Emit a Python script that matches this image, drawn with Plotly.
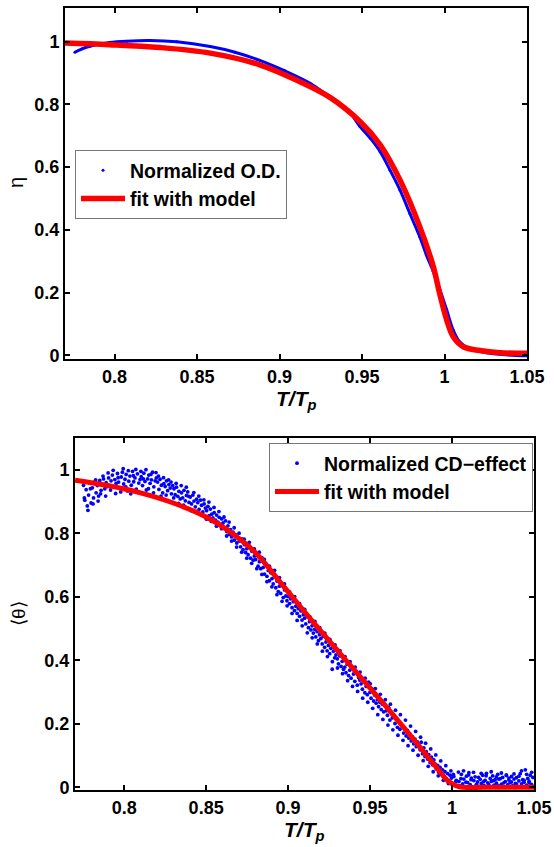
import plotly.graph_objects as go

# ---------------- Top panel data ----------------
od_x = [0.776, 0.780, 0.785, 0.791, 0.797, 0.8074, 0.8215, 0.8377, 0.858, 0.873, 0.888,
        0.903, 0.9185, 0.930, 0.9427, 0.9488, 0.955, 0.961, 0.967, 0.973, 0.979, 0.985,
        0.989, 0.9932, 0.997, 1.0013, 1.0053, 1.0093, 1.0154, 1.0255, 1.035, 1.05]
od_y = [0.966, 0.976, 0.985, 0.992, 0.997, 1.001, 1.003, 0.999, 0.984, 0.966, 0.940,
        0.907, 0.867, 0.825, 0.773, 0.729, 0.692, 0.649, 0.590, 0.527, 0.452, 0.378,
        0.320, 0.267, 0.212, 0.145, 0.080, 0.042, 0.020, 0.008, 0.002, -0.002]

fit1_x = [0.770, 0.797, 0.8276, 0.858, 0.888, 0.9124, 0.9306, 0.9488, 0.961, 0.973, 0.985,
          0.9932, 0.997, 1.0013, 1.0053, 1.0114, 1.0215, 1.0336, 1.05]
fit1_y = [0.995, 0.990, 0.981, 0.963, 0.926, 0.872, 0.822, 0.745, 0.671, 0.559, 0.410,
          0.283, 0.198, 0.113, 0.059, 0.027, 0.015, 0.008, 0.006]

# ---------------- Bottom panel data ----------------
cd_x = [
    0.7752, 0.7760, 0.7768, 0.7775, 0.7783, 0.7791, 0.7798,
    0.7806, 0.7813, 0.7821, 0.7829, 0.7836, 0.7844,
    0.7851, 0.7859, 0.7867, 0.7874, 0.7882, 0.7890, 0.7897,
    0.7905, 0.7913, 0.7920, 0.7928, 0.7936, 0.7943,
    0.7951, 0.7959, 0.7966, 0.7974, 0.7982, 0.7989, 0.7997,
    0.8005, 0.8012, 0.8020, 0.8028, 0.8035, 0.8043,
    0.8051, 0.8058, 0.8066, 0.8074, 0.8081, 0.8089, 0.8097,
    0.8104, 0.8112, 0.8120, 0.8127, 0.8135, 0.8143,
    0.8150, 0.8158, 0.8166, 0.8173, 0.8181, 0.8189, 0.8196,
    0.8204, 0.8212, 0.8219, 0.8227, 0.8235, 0.8242,
    0.8250, 0.8258, 0.8265, 0.8273, 0.8281, 0.8288, 0.8296,
    0.8304, 0.8311, 0.8319, 0.8327, 0.8334, 0.8342,
    0.8350, 0.8357, 0.8365, 0.8373, 0.8380, 0.8388, 0.8396,
    0.8403, 0.8411, 0.8419, 0.8426, 0.8434, 0.8442,
    0.8449, 0.8457, 0.8465, 0.8472, 0.8480, 0.8488, 0.8495,
    0.8503, 0.8511, 0.8518, 0.8526, 0.8534, 0.8541,
    0.8549, 0.8557, 0.8564, 0.8572, 0.8580, 0.8587, 0.8595,
    0.8603, 0.8610, 0.8618, 0.8626, 0.8633, 0.8641,
    0.8649, 0.8656, 0.8664, 0.8672, 0.8679, 0.8687, 0.8695,
    0.8702, 0.8710, 0.8718, 0.8725, 0.8733, 0.8741,
    0.8748, 0.8756, 0.8764, 0.8771, 0.8779, 0.8787, 0.8794,
    0.8802, 0.8810, 0.8817, 0.8825, 0.8833, 0.8840,
    0.8848, 0.8856, 0.8863, 0.8871, 0.8879, 0.8886, 0.8894,
    0.8902, 0.8909, 0.8917, 0.8925, 0.8932, 0.8940,
    0.8947, 0.8955, 0.8963, 0.8970, 0.8978, 0.8986, 0.8993,
    0.9001, 0.9009, 0.9016, 0.9024, 0.9032, 0.9039,
    0.9047, 0.9055, 0.9062, 0.9070, 0.9078, 0.9085, 0.9093,
    0.9101, 0.9108, 0.9116, 0.9124, 0.9131, 0.9139,
    0.9146, 0.9154, 0.9162, 0.9169, 0.9177, 0.9185, 0.9192,
    0.9200, 0.9208, 0.9215, 0.9223, 0.9231, 0.9238,
    0.9246, 0.9254, 0.9261, 0.9269, 0.9277, 0.9284, 0.9292,
    0.9300, 0.9307, 0.9315, 0.9323, 0.9330, 0.9338,
    0.9346, 0.9353, 0.9361, 0.9369, 0.9376, 0.9384, 0.9392,
    0.9399, 0.9407, 0.9414, 0.9422, 0.9430, 0.9437,
    0.9445, 0.9453, 0.9460, 0.9468, 0.9476, 0.9483, 0.9491,
    0.9499, 0.9506, 0.9514, 0.9522, 0.9529, 0.9537,
    0.9545, 0.9552, 0.9560, 0.9568, 0.9575, 0.9583, 0.9591,
    0.9598, 0.9606, 0.9613, 0.9621, 0.9629, 0.9636,
    0.9644, 0.9652, 0.9659, 0.9667, 0.9675, 0.9682, 0.9690,
    0.9697, 0.9705, 0.9713, 0.9720, 0.9728, 0.9736,
    0.9743, 0.9751, 0.9759, 0.9766, 0.9774, 0.9782, 0.9789,
    0.9797, 0.9805, 0.9812, 0.9820, 0.9828, 0.9835,
    0.9843, 0.9851, 0.9858, 0.9866, 0.9874, 0.9881, 0.9889,
    0.9896, 0.9904, 0.9912, 0.9919, 0.9927, 0.9935,
    0.9942, 0.9950, 0.9957, 0.9965, 0.9973, 0.9980, 0.9988,
    0.9996, 1.0003, 1.0011, 1.0019, 1.0026, 1.0034,
    1.0042, 1.0049, 1.0057, 1.0065, 1.0072, 1.0080, 1.0088,
    1.0095, 1.0103, 1.0111, 1.0118, 1.0126, 1.0133,
    1.0141, 1.0149, 1.0156, 1.0164, 1.0172, 1.0179, 1.0187,
    1.0195, 1.0202, 1.0210, 1.0218, 1.0225, 1.0233,
    1.0240, 1.0248, 1.0256, 1.0263, 1.0271, 1.0279, 1.0286,
    1.0294, 1.0302, 1.0309, 1.0317, 1.0325, 1.0332,
    1.0340, 1.0347, 1.0355, 1.0363, 1.0370, 1.0378, 1.0386,
    1.0393, 1.0401, 1.0408, 1.0416, 1.0424, 1.0431,
    1.0439, 1.0447, 1.0454, 1.0462, 1.0470, 1.0477, 1.0485, 1.0493,
]
cd_y = [
    0.952, 0.905, 0.938, 0.887, 0.921, 0.958, 0.896,
    0.944, 0.912, 0.963, 0.928, 0.951, 0.918,
    0.967, 0.936, 0.955, 0.972, 0.941, 0.960, 0.948,
    0.975, 0.951, 0.966, 0.984, 0.947, 0.970,
    0.958, 0.989, 0.962, 0.944, 0.978, 0.993, 0.956,
    0.971, 0.986, 0.934, 0.965, 0.981, 0.952,
    0.996, 0.963, 0.975, 0.940, 0.988, 0.959, 0.970,
    0.979, 0.951, 0.990, 0.964, 0.937, 0.972,
    0.984, 0.958, 0.969, 0.993, 0.947, 0.966, 0.975,
    0.962, 0.939, 0.971, 0.952, 0.928, 0.957,
    0.948, 0.966, 0.935, 0.954, 0.943, 0.925, 0.951,
    0.941, 0.922, 0.946, 0.917, 0.933, 0.909,
    0.928, 0.912, 0.936, 0.903, 0.920, 0.931, 0.898,
    0.915, 0.893, 0.921, 0.902, 0.884, 0.908,
    0.897, 0.876, 0.905, 0.889, 0.868, 0.893, 0.880,
    0.872, 0.885, 0.856, 0.877, 0.861, 0.849,
    0.866, 0.842, 0.858, 0.836, 0.851, 0.829, 0.846,
    0.833, 0.818, 0.840, 0.806, 0.824, 0.797,
    0.812, 0.789, 0.804, 0.779, 0.796, 0.770, 0.785,
    0.776, 0.758, 0.783, 0.749, 0.765, 0.740,
    0.752, 0.733, 0.761, 0.722, 0.744, 0.716, 0.729,
    0.718, 0.736, 0.697, 0.711, 0.689, 0.724,
    0.693, 0.672, 0.704, 0.665, 0.683, 0.651, 0.676,
    0.658, 0.641, 0.667, 0.629, 0.650, 0.617,
    0.634, 0.611, 0.642, 0.598, 0.622, 0.603, 0.588,
    0.601, 0.579, 0.594, 0.566, 0.585, 0.557,
    0.571, 0.548, 0.563, 0.539, 0.556, 0.527, 0.544,
    0.533, 0.515, 0.541, 0.503, 0.522, 0.496,
    0.509, 0.486, 0.498, 0.474, 0.491, 0.462, 0.481,
    0.469, 0.452, 0.476, 0.441, 0.458, 0.430,
    0.447, 0.421, 0.438, 0.372, 0.429, 0.408, 0.417,
    0.405, 0.389, 0.414, 0.381, 0.397, 0.372,
    0.379, 0.361, 0.388, 0.352, 0.369, 0.344, 0.375,
    0.357, 0.334, 0.366, 0.322, 0.346, 0.338,
    0.326, 0.309, 0.339, 0.298, 0.318, 0.292, 0.331,
    0.299, 0.281, 0.309, 0.272, 0.290, 0.265,
    0.276, 0.254, 0.268, 0.245, 0.262, 0.238, 0.259,
    0.241, 0.227, 0.252, 0.212, 0.236, 0.219,
    0.228, 0.201, 0.215, 0.189, 0.207, 0.183, 0.198,
    0.192, 0.171, 0.186, 0.162, 0.179, 0.155,
    0.168, 0.146, 0.159, 0.137, 0.152, 0.128, 0.143,
    0.131, 0.118, 0.142, 0.106, 0.124, 0.097,
    0.112, 0.089, 0.103, 0.078, 0.095, 0.071, 0.086,
    0.074, 0.058, 0.069, 0.047, 0.063, 0.041,
    0.055, 0.036, 0.049, 0.027, 0.043, 0.021, 0.038,
    0.029, 0.012, 0.034, 0.006, 0.022, 0.003,
    0.018, 0.004, 0.041, 0.011, 0.026, 0.002, 0.035,
    0.015, 0.046, 0.008, 0.029, 0.001, 0.021,
    0.033, 0.009, 0.017, 0.003, 0.025, 0.012, 0.038,
    0.006, 0.022, 0.044, 0.014, 0.001, 0.028,
    0.019, 0.036, 0.007, 0.024, 0.013, 0.041, 0.004,
    0.027, 0.010, 0.031, 0.002, 0.018, 0.037,
    0.008, 0.023, 0.015, 0.034, 0.005, 0.026, 0.012,
    0.030, 0.003, 0.020, 0.043, 0.011, 0.024,
    0.016, 0.055, 0.007, 0.028, 0.019, 0.038, 0.009, 0.031,
]

# second batch of CD points (the wider scatter of the band)
cd_extra = [
    (0.7757, 0.912), (0.7779, 0.873), (0.7794, 0.941), (0.7810, 0.893), (0.7826, 0.969),
    (0.7841, 0.902), (0.7856, 0.925), (0.7871, 0.981), (0.7887, 0.918), (0.7902, 0.991),
    (0.7917, 0.937), (0.7933, 0.999), (0.7948, 0.926), (0.7963, 0.976), (0.7979, 0.931),
    (0.7994, 1.004), (0.8010, 0.947), (0.8025, 0.998), (0.8040, 0.925), (0.8056, 0.982),
    (0.8071, 1.002), (0.8086, 0.931), (0.8102, 0.996), (0.8117, 0.972), (0.8133, 1.001),
    (0.8148, 0.941), (0.8163, 0.986), (0.8179, 0.928), (0.8194, 0.992), (0.8209, 0.981),
    (0.8225, 0.918), (0.8240, 0.976), (0.8256, 0.921), (0.8271, 0.969), (0.8286, 0.962),
    (0.8302, 0.912), (0.8317, 0.958), (0.8332, 0.895), (0.8348, 0.951), (0.8363, 0.889),
    (0.8379, 0.946), (0.8394, 0.917), (0.8409, 0.872), (0.8425, 0.929), (0.8440, 0.869),
    (0.8455, 0.918), (0.8471, 0.859), (0.8486, 0.906), (0.8502, 0.845), (0.8517, 0.899),
    (0.8532, 0.838), (0.8548, 0.882), (0.8563, 0.823), (0.8578, 0.869), (0.8594, 0.815),
    (0.8609, 0.852), (0.8625, 0.792), (0.8640, 0.836), (0.8655, 0.776), (0.8671, 0.818),
    (0.8686, 0.757), (0.8701, 0.801), (0.8717, 0.741), (0.8732, 0.782), (0.8748, 0.722),
    (0.8763, 0.772), (0.8778, 0.706), (0.8794, 0.751), (0.8809, 0.689), (0.8824, 0.741),
    (0.8840, 0.671), (0.8855, 0.718), (0.8871, 0.648), (0.8886, 0.697), (0.8901, 0.632),
    (0.8917, 0.684), (0.8932, 0.607), (0.8947, 0.661), (0.8963, 0.586), (0.8978, 0.641),
    (0.8994, 0.572), (0.9009, 0.616), (0.9024, 0.548), (0.9040, 0.601), (0.9055, 0.526),
    (0.9070, 0.579), (0.9086, 0.509), (0.9101, 0.561), (0.9117, 0.487), (0.9132, 0.538),
    (0.9147, 0.471), (0.9163, 0.523), (0.9178, 0.452), (0.9193, 0.503), (0.9209, 0.429),
    (0.9224, 0.486), (0.9240, 0.412), (0.9255, 0.466), (0.9270, 0.396), (0.9286, 0.449),
    (0.9301, 0.376), (0.9316, 0.431), (0.9332, 0.358), (0.9347, 0.412), (0.9363, 0.336),
    (0.9378, 0.396), (0.9393, 0.318), (0.9409, 0.379), (0.9424, 0.302), (0.9439, 0.363),
    (0.9455, 0.281), (0.9470, 0.344), (0.9486, 0.268), (0.9501, 0.326), (0.9516, 0.249),
    (0.9532, 0.311), (0.9547, 0.229), (0.9562, 0.293), (0.9578, 0.214), (0.9593, 0.276),
    (0.9609, 0.196), (0.9624, 0.262), (0.9639, 0.181), (0.9655, 0.243), (0.9670, 0.164),
    (0.9685, 0.229), (0.9701, 0.148), (0.9716, 0.212), (0.9732, 0.131), (0.9747, 0.193),
    (0.9762, 0.117), (0.9778, 0.176), (0.9793, 0.101), (0.9808, 0.158), (0.9824, 0.084),
    (0.9839, 0.139), (0.9855, 0.066), (0.9870, 0.121), (0.9885, 0.049), (0.9901, 0.102),
    (0.9916, 0.036), (0.9931, 0.083), (0.9947, 0.022), (0.9962, 0.068), (0.9978, 0.012),
    (0.9993, 0.052), (1.0008, 0.041), (1.0024, 0.019), (1.0039, 0.048), (1.0054, 0.027),
    (1.0070, 0.052), (1.0085, 0.016), (1.0101, 0.039), (1.0116, 0.024), (1.0131, 0.047),
    (1.0147, 0.005), (1.0162, 0.031), (1.0178, 0.044), (1.0193, 0.018), (1.0208, 0.036),
    (1.0224, 0.009), (1.0239, 0.049), (1.0254, 0.021), (1.0270, 0.033), (1.0285, 0.026),
    (1.0301, 0.045), (1.0316, 0.014), (1.0331, 0.039), (1.0347, 0.029), (1.0362, 0.017),
    (1.0378, 0.042), (1.0393, 0.011), (1.0408, 0.035), (1.0424, 0.052), (1.0439, 0.022),
    (1.0455, 0.041), (1.0470, 0.014), (1.0486, 0.047),
]
cd_all_x = cd_x + [p[0] for p in cd_extra]
cd_all_y = cd_y + [p[1] for p in cd_extra]

fit2_x = [0.770, 0.790, 0.810, 0.830, 0.850, 0.866, 0.880, 0.897, 0.917, 0.937,
          0.958, 0.978, 0.990, 0.998, 1.004, 1.020, 1.050]
fit2_y = [0.968, 0.951, 0.928, 0.896, 0.852, 0.800, 0.740, 0.635, 0.510, 0.390,
          0.265, 0.142, 0.066, 0.018, 0.002, 0.000, 0.000]

x_ticks = [0.8, 0.85, 0.9, 0.95, 1.0, 1.05]
x_ticktext = ["0.8", "0.85", "0.9", "0.95", "1", "1.05"]
y_ticks = [0, 0.2, 0.4, 0.6, 0.8, 1.0]
y_ticktext = ["0", "0.2", "0.4", "0.6", "0.8", "1"]

W, H = 554, 847
FONT = "Arial, 'Liberation Sans', Helvetica, sans-serif"
BLUE = "#0000ff"
RED = "#ff0000"

fig = go.Figure()

# top panel
fig.add_trace(go.Scatter(x=od_x, y=od_y, mode="lines", line=dict(color=BLUE, width=3),
                         line_shape="spline", showlegend=False, xaxis="x", yaxis="y",
                         hoverinfo="skip"))
fig.add_trace(go.Scatter(x=od_x, y=od_y, mode="markers", name="Normalized O.D.",
                         marker=dict(color=BLUE, size=3), legend="legend",
                         xaxis="x", yaxis="y"))
fig.add_trace(go.Scatter(x=fit1_x, y=fit1_y, mode="lines", name="fit with model",
                         line=dict(color=RED, width=5.5), line_shape="spline",
                         legend="legend", xaxis="x", yaxis="y"))

# bottom panel
fig.add_trace(go.Scatter(x=cd_all_x, y=cd_all_y, mode="markers",
                         name="Normalized CD\u2212effect",
                         marker=dict(color=BLUE, size=3.8), legend="legend2",
                         xaxis="x2", yaxis="y2"))
fig.add_trace(go.Scatter(x=fit2_x, y=fit2_y, mode="lines", name="fit with model",
                         line=dict(color=RED, width=5), line_shape="spline",
                         legend="legend2", xaxis="x2", yaxis="y2"))

def px_x(p):
    return p / W

def px_y(p):
    return 1 - p / H

axis_common = dict(
    showline=True, linecolor="black", linewidth=2, mirror="ticks",
    ticks="inside", ticklen=5, tickwidth=1.5, tickcolor="black",
    showgrid=False, zeroline=False, automargin=False,
    tickfont=dict(family=FONT, size=18, color="black", weight="bold"),
)

legend_font = dict(family=FONT, size=19.5, color="black", weight="bold")

fig.update_layout(
    width=W, height=H,
    margin=dict(l=0, r=0, t=0, b=0),
    paper_bgcolor="white", plot_bgcolor="white",
    font=dict(family=FONT, color="black"),
    xaxis=dict(domain=[px_x(65), px_x(527)], range=[0.77, 1.05], anchor="y",
               tickvals=x_ticks, ticktext=x_ticktext, **axis_common),
    yaxis=dict(domain=[px_y(359), px_y(8.3)], range=[-0.012, 1.106], anchor="x",
               tickvals=y_ticks, ticktext=y_ticktext, **axis_common),
    xaxis2=dict(domain=[px_x(75), px_x(534)], range=[0.77, 1.05], anchor="y2",
                tickvals=x_ticks, ticktext=x_ticktext, **axis_common),
    yaxis2=dict(domain=[px_y(790.3), px_y(438.3)], range=[-0.0095, 1.1], anchor="x2",
                tickvals=y_ticks, ticktext=y_ticktext, **axis_common),
    legend=dict(x=px_x(75), y=px_y(150), xanchor="left", yanchor="top",
                bgcolor="white", bordercolor="#777777", borderwidth=1,
                font=legend_font, tracegroupgap=0, itemwidth=44),
    legend2=dict(x=px_x(269), y=px_y(443), xanchor="left", yanchor="top",
                 bgcolor="white", bordercolor="#777777", borderwidth=1,
                 font=legend_font, tracegroupgap=0, itemwidth=44),
    annotations=[
        dict(text="<b><i>T/T<sub>p</sub></i></b>", xref="paper", yref="paper",
             x=px_x(296), y=px_y(400), xanchor="center", yanchor="middle",
             showarrow=False, font=dict(family=FONT, size=21, color="black")),
        dict(text="<b><i>T/T<sub>p</sub></i></b>", xref="paper", yref="paper",
             x=px_x(304), y=px_y(831), xanchor="center", yanchor="middle",
             showarrow=False, font=dict(family=FONT, size=21, color="black")),
        dict(text="\u03b7", xref="paper", yref="paper", textangle=-90,
             x=px_x(16), y=px_y(183), xanchor="center", yanchor="middle",
             showarrow=False, font=dict(family=FONT, size=20, color="black")),
        dict(text="\u27e8\u03b8\u27e9", xref="paper", yref="paper", textangle=-90,
             x=px_x(18), y=px_y(614), xanchor="center", yanchor="middle",
             showarrow=False, font=dict(family=FONT, size=19, color="black")),
    ],
)

fig.write_html("out.html")
